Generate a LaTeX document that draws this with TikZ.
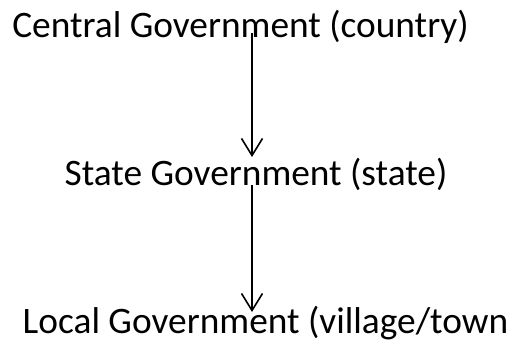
\documentclass[tikz,border=0pt]{standalone}
\usepackage{fontspec}
\setmainfont{Carlito}
\usetikzlibrary{arrows.meta}
\begin{document}
\begin{tikzpicture}[x=1bp,y=-1bp,
  lbl/.style={anchor=base,inner sep=0pt,font=\fontsize{37.5}{44}\selectfont},
  arr/.style={line width=1.6bp,-{Straight Barb[length=17bp,width=21bp,line width=1.6bp]}}]
\useasboundingbox (0,0) rectangle (514,347);
\node[lbl] (central) at (240.5,37) {Central Government (country)};
\node[lbl] (state) at (256,185) {State Government (state)};
\node[lbl] (local) at (265.5,333) {Local Government (village/town};
\coordinate (a1s) at (252,33);
\coordinate (a1e) at (252,157);
\coordinate (a2s) at (252,185);
\coordinate (a2e) at (252,312);
\draw[arr] (a1s) -- (a1e);
\draw[arr] (a2s) -- (a2e);
\end{tikzpicture}
\end{document}
